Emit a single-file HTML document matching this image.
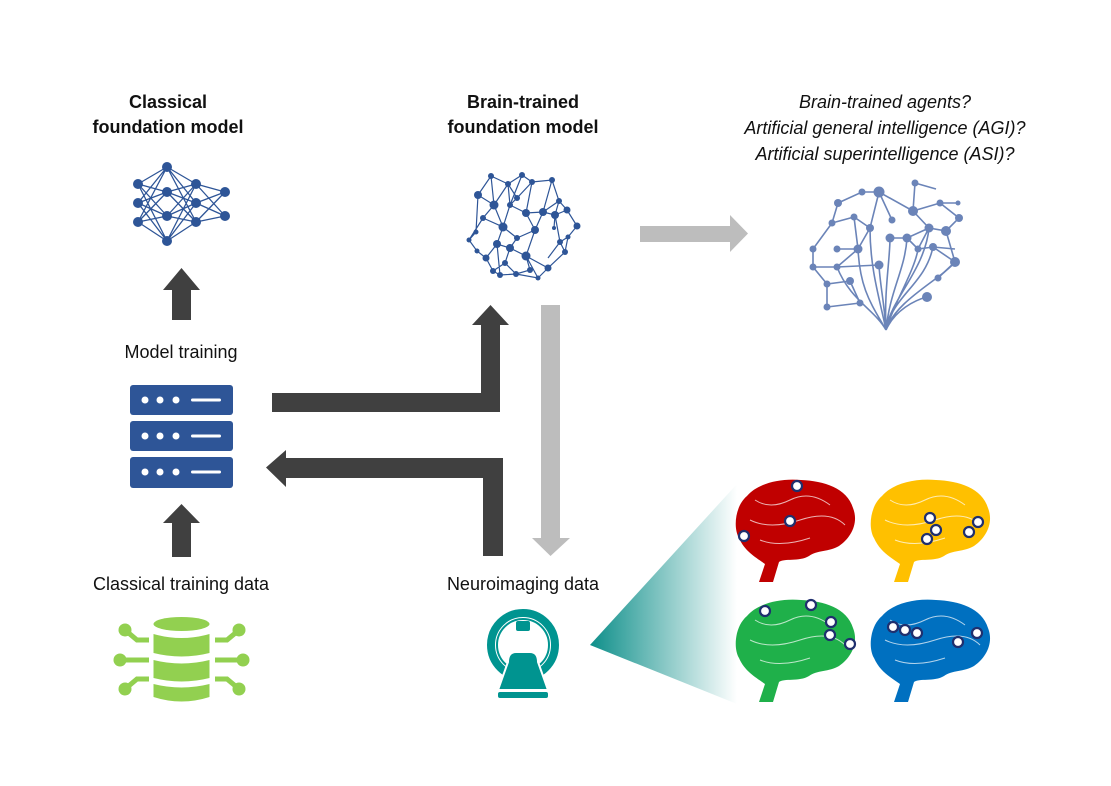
<!DOCTYPE html>
<html><head><meta charset="utf-8"><style>
body{margin:0;background:#fff}
svg{display:block}
text{font-family:"Liberation Sans",sans-serif;fill:#111}
</style></head><body>
<svg width="1111" height="786" viewBox="0 0 1111 786" xmlns="http://www.w3.org/2000/svg">
<defs>
<linearGradient id="tg" x1="0" x2="1" y1="0" y2="0"><stop offset="0" stop-color="#0e8f8a"/><stop offset="1" stop-color="#0e8f8a" stop-opacity="0"/></linearGradient>
<path id="br" d="M0 60C-6 50-4 28 8 18C18 6 40 0 62 2C85 3 108 10 114 30C120 45 112 60 100 68C90 74 78 72 70 78C60 84 45 80 40 84L34 104H20L26 86C18 80 6 74 0 60Z"/>
</defs>
<text x="168" y="108" font-size="18" font-weight="bold" text-anchor="middle">Classical</text>
<text x="168" y="133" font-size="18" font-weight="bold" text-anchor="middle">foundation model</text>
<text x="523" y="108" font-size="18" font-weight="bold" text-anchor="middle">Brain-trained</text>
<text x="523" y="133" font-size="18" font-weight="bold" text-anchor="middle">foundation model</text>
<g font-size="18" font-style="italic" text-anchor="middle">
<text x="885" y="108">Brain-trained agents?</text>
<text x="885" y="134">Artificial general intelligence (AGI)?</text>
<text x="885" y="160">Artificial superintelligence (ASI)?</text>
</g>
<text x="181" y="358" font-size="18" text-anchor="middle">Model training</text>
<text x="181" y="590" font-size="18" text-anchor="middle">Classical training data</text>
<text x="523" y="590" font-size="18" text-anchor="middle">Neuroimaging data</text>

<g stroke="#2e5597" stroke-width="1.3" fill="none">
<path d="M138 184L167 167M138 184L167 192M138 184L167 216M138 184L167 241M138 203L167 167M138 203L167 192M138 203L167 216M138 203L167 241M138 222L167 167M138 222L167 192M138 222L167 216M138 222L167 241
M167 167L196 184M167 167L196 203M167 167L196 222M167 192L196 184M167 192L196 203M167 192L196 222M167 216L196 184M167 216L196 203M167 216L196 222M167 241L196 184M167 241L196 203M167 241L196 222
M196 184L225 192M196 184L225 216M196 203L225 192M196 203L225 216M196 222L225 192M196 222L225 216"/>
</g>
<g fill="#2e5597">
<circle cx="138" cy="184" r="5"/><circle cx="138" cy="203" r="5"/><circle cx="138" cy="222" r="5"/>
<circle cx="167" cy="167" r="5"/><circle cx="167" cy="192" r="5"/><circle cx="167" cy="216" r="5"/><circle cx="167" cy="241" r="5"/>
<circle cx="196" cy="184" r="5"/><circle cx="196" cy="203" r="5"/><circle cx="196" cy="222" r="5"/>
<circle cx="225" cy="192" r="5"/><circle cx="225" cy="216" r="5"/>
</g>

<g stroke="#2e5597" stroke-width="1.2" fill="none">
<path d="M478 195L491 176L508 184L522 175L532 182L552 180L559 201L567 210L577 226L568 237L565 252L548 268L538 278L516 274L500 275L493 271L486 258L477 251L469 240L476 232L478 195L494 205L491 176M494 205L508 184L510 205L522 175M508 184L517 198L532 182L526 213L543 212L552 180M517 198L510 205L503 227L494 205L483 218L469 240M483 218L503 227L497 244L486 258M503 227L517 238L510 248L497 244L500 275M510 248L526 256L538 278M517 238L535 230L543 212L559 201L555 215L560 242L568 237M535 230L526 256L548 268L565 252L560 242L548 258M543 212L555 215L567 210M526 213L535 230M510 205L526 213M510 248L505 263L516 274M505 263L493 271M526 256L530 270L516 274M555 215L554 228"/>
</g>
<g fill="#2e5597">
<circle cx="478" cy="195" r="4"/><circle cx="491" cy="176" r="3"/><circle cx="508" cy="184" r="3"/><circle cx="522" cy="175" r="3"/><circle cx="532" cy="182" r="3"/><circle cx="552" cy="180" r="3"/><circle cx="559" cy="201" r="3"/><circle cx="567" cy="210" r="3.5"/><circle cx="577" cy="226" r="3.5"/><circle cx="568" cy="237" r="2.5"/><circle cx="565" cy="252" r="3"/><circle cx="548" cy="268" r="3.5"/><circle cx="538" cy="278" r="2.5"/><circle cx="516" cy="274" r="3"/><circle cx="500" cy="275" r="3"/><circle cx="493" cy="271" r="3"/><circle cx="486" cy="258" r="3.5"/><circle cx="477" cy="251" r="2.5"/><circle cx="469" cy="240" r="2.5"/><circle cx="476" cy="232" r="2.5"/><circle cx="494" cy="205" r="4.5"/><circle cx="517" cy="198" r="3"/><circle cx="510" cy="205" r="3"/><circle cx="503" cy="227" r="4.5"/><circle cx="483" cy="218" r="3"/><circle cx="497" cy="244" r="4"/><circle cx="510" cy="248" r="4"/><circle cx="517" cy="238" r="3"/><circle cx="526" cy="256" r="4.5"/><circle cx="535" cy="230" r="4"/><circle cx="543" cy="212" r="4"/><circle cx="526" cy="213" r="4"/><circle cx="555" cy="215" r="4"/><circle cx="560" cy="242" r="3"/><circle cx="505" cy="263" r="3"/><circle cx="530" cy="270" r="3"/><circle cx="554" cy="228" r="2"/>
</g>

<g stroke="#6b84b8" stroke-width="1.6" fill="none">
<path d="M886 330C884 300 880 285 879 265M886 330C884 290 890 260 890 238M886 330C890 290 905 270 907 238M886 330C893 295 925 285 933 247M886 330C896 300 940 280 955 262M886 330C895 310 915 300 927 297M886 330C875 310 850 300 837 267M886 330C872 305 860 290 858 249M886 330C880 300 870 270 870 228M886 330C893 305 915 270 918 249M886 330C890 300 925 270 929 228"/>
<path d="M838 203L862 192L879 192L913 211L940 203L958 203M838 203L832 223L813 249L813 267L837 267L879 265M832 223L854 217L870 228L879 192L892 220M854 217L858 249L837 249M913 211L929 228L946 231L955 262L938 278M940 203L959 218L946 231M915 183L913 211M915 183L936 189M890 238L907 238L929 228M907 238L918 249L933 247L955 249M813 267L827 284L850 281M827 284L827 307L860 303L850 281M858 249L837 267M870 228L858 249M929 228L918 249M933 247L955 262"/>
</g>
<g fill="#6b84b8">
<circle cx="915" cy="183" r="3.5"/><circle cx="879" cy="192" r="5.5"/><circle cx="862" cy="192" r="3.5"/><circle cx="838" cy="203" r="4"/><circle cx="913" cy="211" r="5"/><circle cx="940" cy="203" r="3.5"/><circle cx="958" cy="203" r="2.5"/><circle cx="959" cy="218" r="4"/><circle cx="854" cy="217" r="3.5"/><circle cx="832" cy="223" r="3.5"/><circle cx="892" cy="220" r="3.5"/><circle cx="870" cy="228" r="4"/><circle cx="929" cy="228" r="4.5"/><circle cx="946" cy="231" r="5"/><circle cx="890" cy="238" r="4.5"/><circle cx="907" cy="238" r="4.5"/><circle cx="858" cy="249" r="4.5"/><circle cx="837" cy="249" r="3.5"/><circle cx="813" cy="249" r="3.5"/><circle cx="918" cy="249" r="3.5"/><circle cx="933" cy="247" r="4"/><circle cx="813" cy="267" r="3.5"/><circle cx="837" cy="267" r="3.5"/><circle cx="879" cy="265" r="4.5"/><circle cx="955" cy="262" r="5"/><circle cx="850" cy="281" r="4"/><circle cx="827" cy="284" r="3.5"/><circle cx="938" cy="278" r="3.5"/><circle cx="927" cy="297" r="5"/><circle cx="860" cy="303" r="3.5"/><circle cx="827" cy="307" r="3.5"/>
</g>

<g fill="#404040">
<polygon points="172,320 191,320 191,290 200,290 181.5,268 163,290 172,290"/>
<polygon points="172,557 191,557 191,523 200,523 181.5,504 163,523 172,523"/>
<polygon points="272,393 481,393 481,325 472,325 490.5,305 509,325 500,325 500,412 272,412"/>
<polygon points="503,556 483,556 483,478 286,478 286,487 266,467.5 286,450 286,458 503,458"/>
</g>
<g fill="#bdbdbd">
<polygon points="541,305 560,305 560,538 570,538 550.5,556 532,538 541,538"/>
<polygon points="640,226 730,226 730,215 748,233.5 730,252 730,242 640,242"/>
</g>

<g fill="#2e5597">
<rect x="130" y="385" width="103" height="30" rx="3"/>
<rect x="130" y="421" width="103" height="30" rx="3"/>
<rect x="130" y="457" width="103" height="31" rx="3"/>
</g>
<g fill="#fff">
<circle cx="145" cy="400" r="3.5"/><circle cx="160" cy="400" r="3.5"/><circle cx="176" cy="400" r="3.5"/><rect x="191" y="398.5" width="30" height="3" rx="1.5"/>
<circle cx="145" cy="436" r="3.5"/><circle cx="160" cy="436" r="3.5"/><circle cx="176" cy="436" r="3.5"/><rect x="191" y="434.5" width="30" height="3" rx="1.5"/>
<circle cx="145" cy="472" r="3.5"/><circle cx="160" cy="472" r="3.5"/><circle cx="176" cy="472" r="3.5"/><rect x="191" y="470.5" width="30" height="3" rx="1.5"/>
</g>

<g fill="#92d050">
<ellipse cx="181.5" cy="624" rx="28" ry="7"/>
<path d="M153.5 634Q181.5 642 209.5 634V653Q181.5 660 153.5 653Z"/>
<path d="M153.5 660Q181.5 667 209.5 660V678Q181.5 685 153.5 678Z"/>
<path d="M153.5 684Q181.5 691 209.5 684V697Q181.5 706 153.5 697Z"/>
<circle cx="125" cy="630" r="6.5"/><circle cx="120" cy="660" r="6.5"/><circle cx="125" cy="689" r="6.5"/>
<circle cx="239" cy="630" r="6.5"/><circle cx="243" cy="660" r="6.5"/><circle cx="239" cy="689" r="6.5"/>
</g>
<g stroke="#92d050" stroke-width="5" fill="none">
<path d="M125 630L137 640H149M120 660H149M125 689L137 679H149M239 630L227 640H215M243 660H215M239 689L227 679H215"/>
</g>

<circle cx="523" cy="645" r="32" fill="none" stroke="#009490" stroke-width="8"/>
<circle cx="523" cy="645" r="26" fill="none" stroke="#009490" stroke-width="2"/>
<rect x="516" y="621" width="14" height="10" rx="2" fill="#009490"/>
<path d="M508 662Q508 652 516 652H530Q538 652 538 662L548 690H498Z" fill="#009490" stroke="#fff" stroke-width="2"/>
<rect x="498" y="692" width="50" height="6" rx="2" fill="#009490"/>

<polygon points="590,645 737,484 737,704" fill="url(#tg)"/>

<use href="#br" x="739" y="478" fill="#c00000"/>
<use href="#br" x="874" y="478" fill="#ffc000"/>
<use href="#br" x="739" y="598" fill="#1fb04a"/>
<use href="#br" x="874" y="598" fill="#0070c0"/>
<g stroke="#fff" stroke-width="1" fill="none" opacity="0.7">
<path d="M755 500Q770 510 790 500T830 505M750 520Q770 530 800 520T845 525M760 540Q780 548 810 538M890 500Q905 510 925 500T965 505M885 520Q905 530 935 520T980 525M895 540Q915 548 945 538M755 620Q770 630 790 620T830 625M750 640Q770 650 800 640T845 645M760 660Q780 668 810 658M890 620Q905 630 925 620T965 625M885 640Q905 650 935 640T980 645M895 660Q915 668 945 658"/>
</g>
<g fill="#fff" stroke="#1f2f6e" stroke-width="2.2">
<circle cx="797" cy="486" r="5"/><circle cx="790" cy="521" r="5"/><circle cx="744" cy="536" r="5"/>
<circle cx="930" cy="518" r="5"/><circle cx="936" cy="530" r="5"/><circle cx="927" cy="539" r="5"/><circle cx="978" cy="522" r="5"/><circle cx="969" cy="532" r="5"/>
<circle cx="765" cy="611" r="5"/><circle cx="811" cy="605" r="5"/><circle cx="831" cy="622" r="5"/><circle cx="830" cy="635" r="5"/><circle cx="850" cy="644" r="5"/>
<circle cx="893" cy="627" r="5"/><circle cx="905" cy="630" r="5"/><circle cx="917" cy="633" r="5"/><circle cx="958" cy="642" r="5"/><circle cx="977" cy="633" r="5"/>
</g>
</svg>
</body></html>
